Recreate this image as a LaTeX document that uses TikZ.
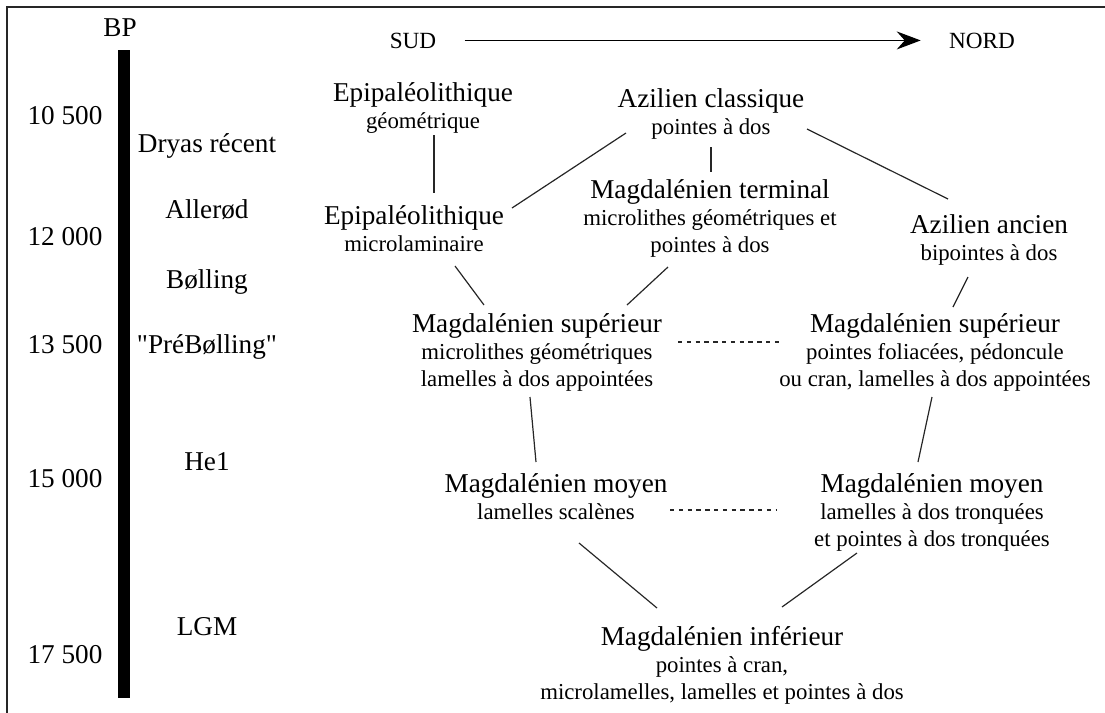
\documentclass[tikz,border=0pt]{standalone}
\usepackage{fontspec}
\setmainfont{Liberation Serif}
\usepackage{tikz}
\usetikzlibrary{arrows.meta, calc}

% main line of a culture, larger than its tools
\newcommand{\cultname}[1]{{\fontsize{13.6}{13.5}\selectfont #1}}

\begin{document}
\begin{tikzpicture}[x=0.5pt, y=-0.5pt, >=Stealth,
  culture/.style={align=center, anchor=base, inner sep=0pt,
                  font=\fontsize{11.4}{13.5}\selectfont},
  age/.style={anchor=base, inner sep=0pt, font=\fontsize{13.6}{16}\selectfont},
  compass/.style={anchor=base, inner sep=0pt, font=\fontsize{11.6}{14}\selectfont},
  link/.style={line width=0.6pt, color=black!85},
  parallel/.style={link, dash pattern=on 2.2pt off 2.2pt}]

  \useasboundingbox (0,0) rectangle (1105,713);
  \draw[line width=1pt, color=black!85] (7,713) -- (7,7) -- (1105,7);

  % time scale
  \fill (118,50) rectangle (130,698);
  \node[age] (bp) at (120,36) {BP};
  \foreach \yr/\yy in {10 500/124, 12 000/245, 13 500/353, 15 000/487, 17 500/663}
    \node[age] (yr-\yy) at (65,\yy) {\yr};
  \foreach \per/\py in {Dryas récent/152, Allerød/218, Bølling/288,
                        {\textquotedbl PréBølling\textquotedbl}/353, He1/470, LGM/635}
    \node[age] (per-\py) at (207,\py) {\per};

  % south to north
  \node[compass] (sud) at (413,48) {SUD};
  \node[compass] (nord) at (982,48) {NORD};
  \draw[->, line width=0.7pt, shorten <=14pt, shorten >=14pt,
        -{Stealth[length=12pt, width=9pt, inset=4pt]}] (sud.east) -- (nord.west);

  % cultures (placed at the baseline of their last line)
  \node[culture] (epigeo) at (423,128) {\cultname{Epipaléolithique}\\géométrique};
  \node[culture] (azclass) at (711,134) {\cultname{Azilien classique}\\pointes à dos};
  \node[culture] (epimicro) at (414,251) {\cultname{Epipaléolithique}\\microlaminaire};
  \node[culture] (mterm) at (710,252)
    {\cultname{Magdalénien terminal}\\microlithes géométriques et\\pointes à dos};
  \node[culture] (azanc) at (989,260) {\cultname{Azilien ancien}\\bipointes à dos};
  \node[culture] (msupl) at (537,386)
    {\cultname{Magdalénien supérieur}\\microlithes géométriques\\lamelles à dos appointées};
  \node[culture] (msupr) at (935,386)
    {\cultname{Magdalénien supérieur}\\pointes foliacées, pédoncule\\ou cran, lamelles à dos appointées};
  \node[culture] (mmoyl) at (556,519) {\cultname{Magdalénien moyen}\\lamelles scalènes};
  \node[culture] (mmoyr) at (932,546)
    {\cultname{Magdalénien moyen}\\lamelles à dos tronquées\\et pointes à dos tronquées};
  \node[culture] (minf) at (722,699)
    {\cultname{Magdalénien inférieur}\\pointes à cran,\\microlamelles, lamelles et pointes à dos};

  % filiations
  \draw[link] ($(epigeo.base)+(11,7)$) -- ($(epimicro.base)+(20,-58)$);
  \draw[link] ($(azclass.base)+(0,13)$) -- ($(mterm.base)+(1,-80)$);
  \draw[link] ($(azclass.base)+(-85,-1)$) -- ($(epimicro.base)+(98,-43)$);
  \draw[link] ($(azclass.base)+(96,-5)$) -- ($(azanc.base)+(-41,-61)$);
  \draw[link] ($(epimicro.base)+(41,15)$) -- ($(msupl.base)+(-53,-81)$);
  \draw[link] ($(mterm.base)+(-42,15)$) -- ($(msupl.base)+(90,-81)$);
  \draw[link] ($(azanc.base)+(-21,17)$) -- ($(msupr.base)+(18,-79)$);
  \draw[link] ($(msupl.base)+(-7,11)$) -- ($(mmoyl.base)+(-20,-57)$);
  \draw[link] ($(msupr.base)+(-3,11)$) -- ($(mmoyr.base)+(-14,-84)$);
  \draw[link] ($(mmoyl.base)+(23,24)$) -- ($(minf.base)+(-65,-91)$);
  \draw[link] ($(mmoyr.base)+(-75,7)$) -- ($(minf.base)+(60,-92)$);

  % contemporaneous facies
  \draw[parallel] ($(msupl.base)+(141,-44)$) -- ($(msupr.base)+(-152,-44)$);
  \draw[parallel] ($(mmoyl.base)+(114,-9)$) -- ($(mmoyr.base)+(-155,-36)$);

\end{tikzpicture}
\end{document}
